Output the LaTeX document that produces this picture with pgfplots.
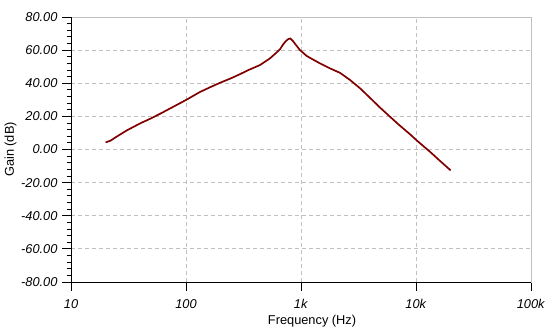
\documentclass[border=0pt]{standalone}
\usepackage{fontspec}
\setmainfont{Liberation Sans}[ItalicFont={Liberation Sans Italic}]
\usepackage{pgfplots}
\pgfplotsset{compat=1.18}
\definecolor{curve}{HTML}{800000}
\definecolor{gridc}{HTML}{C0C0C0}
\begin{document}
\begin{tikzpicture}[x=1pt,y=1pt]
\useasboundingbox (0,0) rectangle (553,329);
\begin{axis}[
  at={(71pt,47pt)}, anchor=south west,
  scale only axis, width=460pt, height=265pt,
  xmode=log, log basis x=10,
  xmin=10, xmax=100000, ymin=-80, ymax=80,
  xtick={10,100,1000,10000,100000},
  xticklabels={\textit{10},\textit{100},\textit{1k},\textit{10k},\textit{100k}},
  ytick={-80,-60,...,80},
  yticklabels={\textit{-80.00},\textit{-60.00},\textit{-40.00},\textit{-20.00},\textit{0.00},\textit{20.00},\textit{40.00},\textit{60.00},\textit{80.00}},
  minor y tick num=4,
  xmajorgrids, xminorgrids, ymajorgrids,
  grid style={gridc, dash pattern=on 4pt off 3pt, line width=0.8pt},
  major grid style={gridc, dash pattern=on 4pt off 3pt, line width=0.8pt},
  minor grid style={gridc, dash pattern=on 4pt off 3pt, line width=0.8pt},
  axis line style={gridc, line width=1pt},
  tick align=outside, xtick pos=bottom, ytick pos=left,
  tick style={black, line width=0.8pt},
  major tick length=9pt, minor tick length=4.5pt,
  tick label style={font=\fontsize{12.8}{15}\selectfont},
  yticklabel style={anchor=east, xshift=-1pt},
  xticklabel style={anchor=north, yshift=-5pt},
  label style={font=\fontsize{12.8}{15}\selectfont},
  xlabel={Frequency (Hz)},
  ylabel={Gain (dB)},
  xlabel style={at={(axis description cs:0.524,0)}, anchor=north, yshift=-30pt},
  ylabel style={at={(axis description cs:0,0.5)}, anchor=south, yshift=51pt},
  clip=false,
]
\addplot[curve, line width=1.7pt] coordinates {
(20,4.3) (22,5.3) (25,7.8) (30.5,11.5) (40,15.8) (48.6,18.5) (60,21.7)
(83,26.9) (100,29.9) (132,34.7) (162,37.6) (198,40.3) (250,43.2)
(295,45.5) (350,48) (440,51) (537,55) (600,58) (656,60.5) (700,63.5)
(740,65.5) (780,66.8) (810,67) (850,65.5) (900,63.3) (980,60) (1047,58.3)
(1120,56.5) (1200,55.3) (1462,52) (1786,49) (2182,46.3) (2666,42)
(3258,37) (3981,31.2) (4866,25.3) (5943,19.8) (7000,15.3) (8872,9.2)
(10140,5.5) (13250,-1.4) (16000,-6.6) (20000,-12.6)
};
\draw[black, line width=1pt] (rel axis cs:0,1) -- (rel axis cs:0,0) -- (rel axis cs:1,0);
\end{axis}
\end{tikzpicture}
\end{document}
